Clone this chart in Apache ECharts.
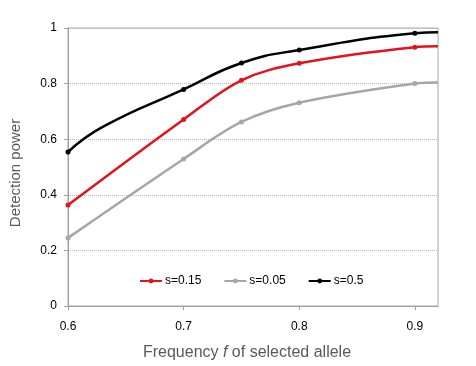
<!DOCTYPE html>
<html>
<head>
<meta charset="utf-8">
<script src="https://cdn.jsdelivr.net/npm/echarts@6/dist/echarts.min.js"></script>
<style>
  html, body { margin: 0; padding: 0; background: #fff; }
  #chart { width: 476px; height: 366px; }
</style>
</head>
<body>
<div id="chart"></div>
<script>
// frequencies along the curves; markers only sit on markerFreqs,
// 0.63 is a shape point, 0.92 is where the curves meet the plot edge
const freqs = [0.6, 0.63, 0.7, 0.75, 0.8, 0.9, 0.92]
const markerFreqs = [0.6, 0.7, 0.75, 0.8, 0.9]
const seriesNames = ['s=0.15', 's=0.05', 's=0.5']
const power015 = [0.363, null, 0.671, 0.812, 0.873, 0.931, 0.934]
const power005 = [0.245, null, 0.529, 0.662, 0.731, 0.800, 0.804]
const power05 = [0.554, 0.644, 0.779, 0.874, 0.921, 0.981, 0.985]
const colors = ['#e3131b', '#a6a6a6', '#000000']
const smoothness = [0.35, 0.35, 0.5]

const chart = echarts.init(document.getElementById('chart'))

function pairs (values) {
  const out = []
  values.forEach((v, i) => {
    if (v === null) return
    const item = { value: [freqs[i], v] }
    if (markerFreqs.indexOf(freqs[i]) < 0) item.symbol = 'none'
    out.push(item)
  })
  return out
}

const allData = [power015, power005, power05]

const option = {
  animation: false,
  textStyle: { fontFamily: 'Liberation Sans, Arial, sans-serif' },
  grid: {
    left: 68,
    right: 38,
    top: 28,
    bottom: 58,
    show: true,
    borderColor: '#a6a6a6',
    borderWidth: 1
  },
  legend: {
    left: 134,
    top: 270,
    itemWidth: 22,
    itemHeight: 6,
    itemGap: 22,
    textStyle: { color: '#000', fontSize: 12, padding: [0, 0, 0, -2] },
    data: seriesNames
  },
  xAxis: {
    type: 'value',
    min: 0.6,
    max: 0.92,
    interval: 0.1,
    name: '{a|Frequency }{i|f}{a| of selected allele}',
    nameLocation: 'middle',
    nameGap: 39,
    nameTextStyle: {
      padding: [0, 12, 0, 0],
      rich: {
        a: { fontSize: 16, color: '#595959' },
        i: { fontSize: 16, color: '#595959', fontStyle: 'italic' }
      }
    },
    axisLine: { lineStyle: { color: '#a0a0a0' } },
    axisTick: { show: true, length: 4, lineStyle: { color: '#a0a0a0' } },
    axisLabel: {
      color: '#000',
      fontSize: 12,
      margin: 15,
      showMaxLabel: false,
      formatter: v => v.toFixed(1)
    },
    splitLine: { show: false }
  },
  yAxis: {
    type: 'value',
    min: 0,
    max: 1,
    interval: 0.2,
    name: 'Detection power',
    nameLocation: 'middle',
    nameGap: 45,
    nameTextStyle: { fontSize: 15, color: '#595959', padding: [0, 12, 0, 0] },
    axisLine: { show: true, lineStyle: { color: '#a0a0a0' } },
    axisTick: { show: true, length: 4, lineStyle: { color: '#a0a0a0' } },
    axisLabel: {
      color: '#000',
      fontSize: 12,
      margin: 11,
      formatter: v => (v === 0 || v === 1) ? String(v) : v.toFixed(1)
    },
    splitLine: { lineStyle: { color: '#b8b8b8', type: 'dotted' } }
  },
  series: seriesNames.map((name, i) => ({
    name: name,
    type: 'line',
    smooth: smoothness[i],
    symbol: 'circle',
    symbolSize: 5,
    color: colors[i],
    lineStyle: { width: 2.5, color: colors[i] },
    itemStyle: { color: colors[i] },
    z: 3 - i,
    data: pairs(allData[i])
  }))
}

chart.setOption(option)
</script>
</body>
</html>
